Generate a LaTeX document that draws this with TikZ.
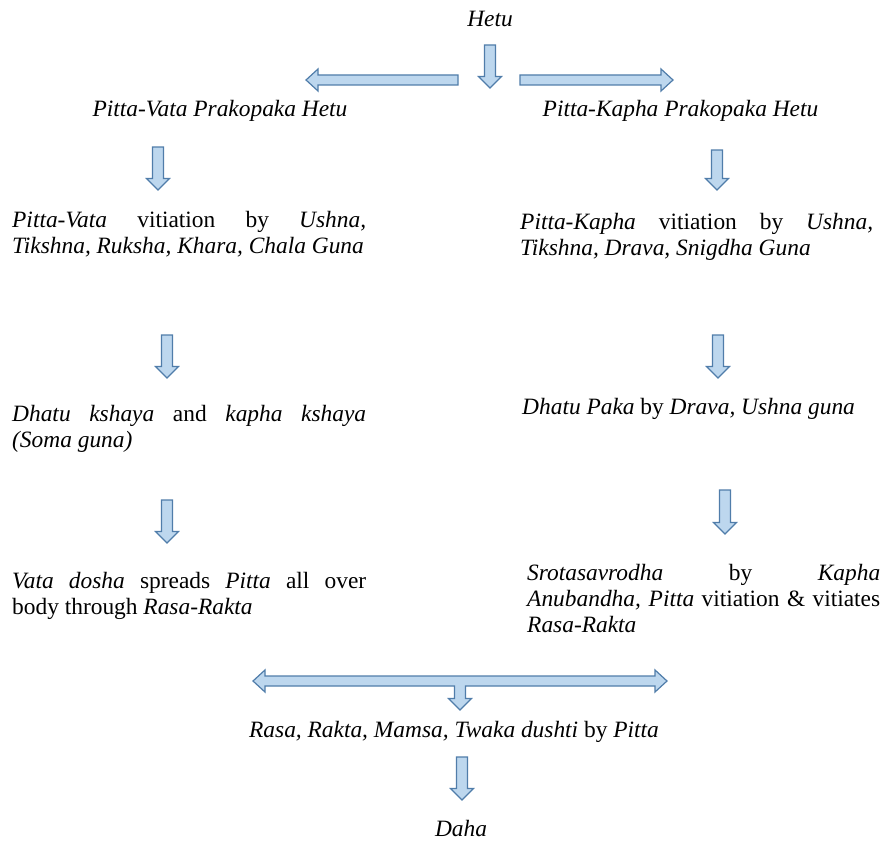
\documentclass[tikz,border=0pt]{standalone}
\usepackage{fontspec}
\setmainfont{Liberation Serif}
\definecolor{arrowfill}{RGB}{189,215,238}
\definecolor{arrowline}{RGB}{80,125,170}
\newcommand\DownArr[3]{\filldraw[blockarrow] ({#1-5.5},#2) -- ({#1+5.5},#2) -- ({#1+5.5},{#3-11.5}) -- ({#1+11.5},{#3-11.5}) -- (#1,#3) -- ({#1-11.5},{#3-11.5}) -- ({#1-5.5},{#3-11.5}) -- cycle;}
\tikzset{
  blockarrow/.style={fill=arrowfill, draw=arrowline, line width=1.2pt},
  txt/.style={inner sep=0pt, font=\fontsize{23.4}{26}\selectfont},
  para/.style={txt, anchor=north west, align=justify},
}
\begin{document}
\begin{tikzpicture}[x=1pt,y=-1pt]
\fill[white] (0,0) rectangle (884,843);
\tolerance=10000 \hyphenpenalty=10000
% texts
\node[txt, anchor=base] (hetu) at (490,27) {\textit{Hetu}};
\node[txt, anchor=base] (pv) at (220,117) {\textit{Pitta-Vata Prakopaka Hetu}};
\node[txt, anchor=base] (pk) at (680.5,117) {\textit{Pitta-Kapha Prakopaka Hetu}};
\node[para, text width=354pt] (l2) at (12,{227-18.2}) {\strut\textit{Pitta-Vata} vitiation by \textit{Ushna,}\linebreak \textit{Tikshna, Ruksha, Khara, Chala Guna}};
\node[para, text width=353pt] (r2) at (520,{229-18.2}) {\strut\textit{Pitta-Kapha} vitiation by \textit{Ushna,}\linebreak \textit{Tikshna, Drava, Snigdha Guna}};
\node[para, text width=354pt] (l3) at (12,{421-18.2}) {\strut\textit{Dhatu kshaya} and \textit{kapha kshaya}\linebreak \textit{(Soma guna)}};
\node[txt, anchor=base west] (r3) at (522,414) {\textit{Dhatu Paka} by \textit{Drava, Ushna guna}};
\node[para, text width=354pt] (l4) at (12,{588-18.2}) {\strut\textit{Vata dosha} spreads \textit{Pitta} all over\linebreak body through \textit{Rasa-Rakta}};
\node[para, text width=353pt] (r4) at (527,{580-18.2}) {\strut\textit{Srotasavrodha} by \textit{Kapha}\linebreak \textit{Anubandha, Pitta} vitiation \& vitiates\linebreak \textit{Rasa-Rakta}};
\node[txt, anchor=base] (rasa) at (454,737) {\textit{Rasa, Rakta, Mamsa, Twaka dushti} by \textit{Pitta}};
\node[txt, anchor=base] (daha) at (461,836) {\textit{Daha}};
% top arrows
\DownArr{490}{45}{88}
\filldraw[blockarrow] (306,80) -- (318,69) -- (318,75) -- (458,75) -- (458,85) -- (318,85) -- (318,91) -- cycle;
\filldraw[blockarrow] (673,80) -- (661,69) -- (661,75) -- (520,75) -- (520,85) -- (661,85) -- (661,91) -- cycle;
% column arrows
\DownArr{158}{147}{190}
\DownArr{717}{150}{190}
\DownArr{167}{335}{378}
\DownArr{718}{335}{378}
\DownArr{167}{500}{543}
\DownArr{725}{490}{534}
% merging T arrow
\filldraw[blockarrow] (253,681) -- (265,670) -- (265,676) -- (655,676) -- (655,670) -- (667,681) -- (655,692) -- (655,686) -- (465.5,686) -- (465.5,698.5) -- (471.5,698.5) -- (460,710) -- (448.5,698.5) -- (454.5,698.5) -- (454.5,686) -- (265,686) -- (265,692) -- cycle;
\DownArr{462}{757}{800}
\end{tikzpicture}
\end{document}
